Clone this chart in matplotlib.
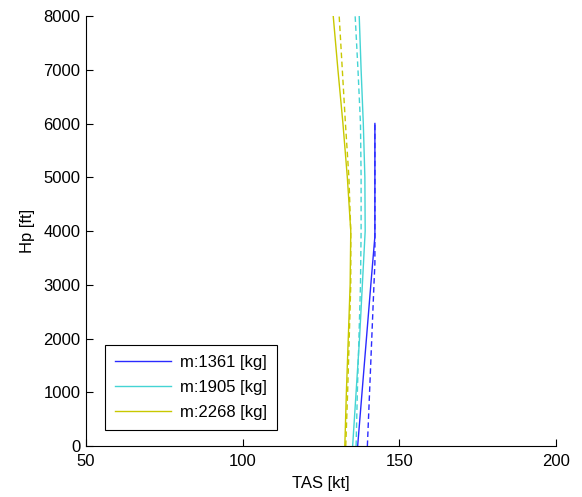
import matplotlib
matplotlib.use("Agg")
import matplotlib.pyplot as plt

plt.rcParams["font.family"] = ["Liberation Sans", "DejaVu Sans"]

# climb profiles: pressure altitude [ft] vs true airspeed [kt]
hp_1361 = [0, 1000, 2000, 3000, 3900, 6000]
tas_1361 = [136.7, 138.1, 139.5, 140.9, 142.2, 142.2]
hp_1361_ref = [0, 1000, 2000, 3000, 3400, 6000]
tas_1361_ref = [139.8, 140.5, 141.2, 141.9, 142.2, 142.2]

hp_grid = [0, 1000, 2000, 3000, 4000, 5000, 6000, 7000, 8000]
tas_1905 = [135.1, 136.2, 137.3, 138.2, 139.1, 139.0, 138.5, 137.8, 137.2]
tas_1905_ref = [136.2, 136.6, 137.1, 137.6, 137.8, 137.8, 137.6, 136.8, 135.9]
tas_2268 = [132.6, 133.1, 133.7, 134.3, 134.5, 133.4, 132.0, 130.4, 128.9]
tas_2268_ref = [132.9, 133.5, 134.0, 134.5, 134.5, 133.9, 132.8, 131.8, 130.8]

labels = ["m:1361 [kg]", "m:1905 [kg]", "m:2268 [kg]"]
colors = ["#2a2aff", "#44d4d4", "#c8c800"]

fig = plt.figure(figsize=(5.82, 4.97), dpi=100)
ax = fig.add_axes([0.1478, 0.1026, 0.8075, 0.8652])

series = [
    (hp_1361, tas_1361, hp_1361_ref, tas_1361_ref),
    (hp_grid, tas_1905, hp_grid, tas_1905_ref),
    (hp_grid, tas_2268, hp_grid, tas_2268_ref),
]
for (hp, tas, hp_r, tas_r), lab, c in zip(series, labels, colors):
    ax.plot(tas, hp, "-", color=c, lw=1.0, label=lab)
    ax.plot(tas_r, hp_r, "--", color=c, lw=1.0, dashes=(4, 2.5))

ax.set_xlim(50, 200)
ax.set_ylim(0, 8000)
ax.set_xticks([50, 100, 150, 200])
ax.set_yticks(range(0, 8001, 1000))
ax.tick_params(direction="in", labelsize=12, length=5, width=0.8)
ax.tick_params(axis="x", pad=6)
ax.tick_params(axis="y", pad=4)
ax.spines["top"].set_visible(False)
ax.spines["right"].set_visible(False)
ax.set_xlabel("TAS [kt]", fontsize=12, labelpad=5)
ax.set_ylabel("Hp [ft]", fontsize=12, labelpad=6)

leg = ax.legend(loc="lower left", bbox_to_anchor=(0.04, 0.037),
                borderaxespad=0, fontsize=12, fancybox=False, framealpha=1,
                edgecolor="black", handlelength=3.4, handletextpad=0.5,
                borderpad=0.6, labelspacing=0.6)
leg.get_frame().set_linewidth(0.8)

fig.savefig("out.png", dpi=100)
